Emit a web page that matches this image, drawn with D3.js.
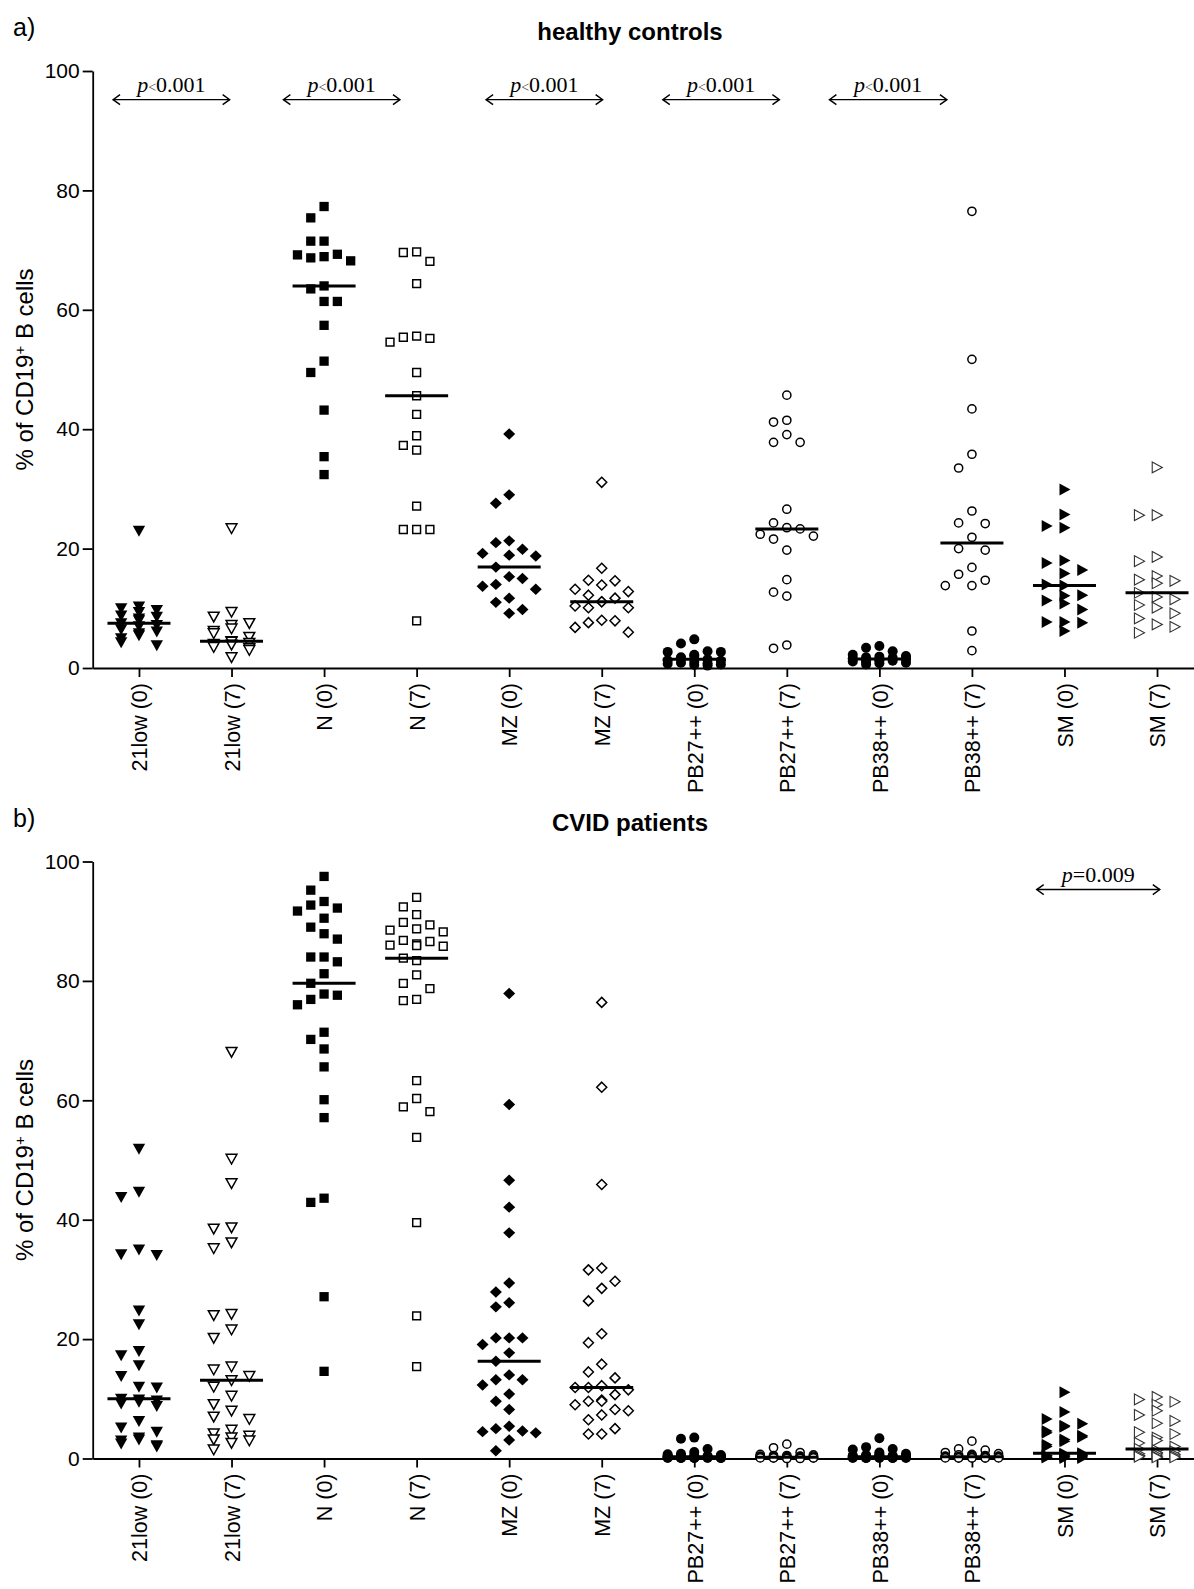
<!DOCTYPE html>
<meta charset="utf-8">
<style>
body { margin: 0; background: #fff; }
text { font-family: 'Liberation Sans', Arial, sans-serif; fill: #000; }
.axis path, .axis line { stroke: #000; stroke-width: 1.8px; }
.axis text { font-size: 21px; }
.pval { font-family: 'Liberation Serif', 'Times New Roman', serif; font-size: 22px; }
</style>
<body>
<svg width="1194" height="1589"></svg>
<script src="https://cdn.jsdelivr.net/npm/d3@7"></script>
<script>

// categories on the x axis (same for both panels)
var categories = ["21low (0)", "21low (7)", "N (0)", "N (7)", "MZ (0)", "MZ (7)",
                  "PB27++ (0)", "PB27++ (7)", "PB38++ (0)", "PB38++ (7)", "SM (0)", "SM (7)"];

var yTicks = [0, 20, 40, 60, 80, 100];

// a) healthy controls, % of CD19+ B cells, one list per category
var healthyValues = [
  [23.0, 10.3, 10.0, 9.7, 9.4, 8.8, 8.6, 8.3, 8.0, 7.5, 7.2, 7.0, 6.5, 6.1, 5.8, 5.5, 5.0, 4.3, 3.8],
  [23.4, 9.4, 8.6, 7.5, 7.2, 6.6, 6.2, 5.8, 5.2, 4.5, 4.4, 4.2, 4.0, 3.9, 3.7, 3.5, 3.3, 3.0, 1.8],
  [77.3, 75.4, 71.5, 71.5, 69.3, 69.2, 68.9, 68.7, 68.2, 64.0, 63.5, 61.4, 61.4, 57.4, 51.4, 49.5, 43.2, 35.4, 32.4],
  [69.7, 69.6, 68.1, 64.4, 55.6, 55.4, 55.2, 54.6, 49.5, 45.6, 42.5, 38.9, 37.3, 36.5, 27.1, 23.2, 23.2, 23.2, 7.9],
  [39.2, 29.0, 27.6, 21.3, 21.0, 19.9, 19.2, 18.9, 18.75, 16.9, 15.3, 15.0, 14.0, 13.7, 13.2, 11.7, 11.0, 9.8, 9.15],
  [31.1, 16.7, 14.7, 14.6, 13.9, 13.2, 12.8, 12.2, 11.7, 11.1, 11.1, 10.4, 10.1, 10.1, 8.0, 7.9, 7.6, 6.8, 6.0],
  [4.8, 4.1, 2.8, 2.7, 2.7, 2.2, 2.0, 1.8, 1.6, 1.45, 1.3, 1.2, 1.0, 0.9, 0.8, 0.7, 0.6, 0.5, 0.4],
  [45.7, 41.5, 41.2, 39.1, 37.8, 37.8, 26.6, 24.3, 23.5, 23.3, 22.4, 22.1, 21.6, 19.75, 14.8, 12.7, 12.05, 3.85, 3.3],
  [3.7, 3.4, 2.8, 2.2, 2.0, 1.9, 1.8, 1.7, 1.6, 1.5, 1.4, 1.3, 1.3, 1.2, 1.1, 1.0, 0.9, 0.8, 0.6],
  [76.5, 51.7, 43.4, 35.8, 33.5, 26.3, 24.3, 24.2, 21.9, 20.0, 19.75, 16.85, 15.7, 14.7, 13.8, 13.8, 6.2, 2.9],
  [29.9, 25.7, 23.8, 23.5, 18.0, 17.6, 16.4, 15.85, 14.0, 13.8, 12.2, 12.1, 11.3, 10.8, 9.8, 7.7, 7.7, 7.6, 6.2],
  [33.6, 25.6, 25.6, 18.6, 17.9, 15.4, 14.8, 14.6, 14.2, 12.6, 11.9, 11.5, 10.55, 10.1, 9.15, 8.3, 7.3, 6.9, 5.9]
];

// b) CVID patients
var cvidValues = [
  [51.9, 44.7, 43.8, 35.0, 34.2, 34.1, 24.8, 22.5, 18.0, 17.3, 15.6, 13.8, 12.0, 11.9, 10.0, 9.9, 9.7, 9.5, 9.2, 8.8, 6.3, 5.2, 4.5, 3.5, 3.2, 3.0, 2.5, 2.2, 2.0],
  [68.1, 50.2, 46.1, 38.7, 38.5, 36.2, 35.2, 24.2, 24.0, 21.6, 20.2, 15.4, 14.9, 13.8, 13.1, 12.0, 10.5, 9.1, 8.0, 7.0, 6.6, 4.8, 4.2, 3.8, 3.5, 3.2, 3.0, 2.6, 1.5],
  [97.5, 95.2, 93.3, 92.7, 92.2, 91.7, 90.5, 89.0, 87.9, 87.0, 84.0, 84.0, 83.2, 81.2, 79.6, 77.8, 77.6, 76.9, 76.0, 71.4, 70.2, 68.6, 65.6, 60.1, 57.1, 43.6, 42.9, 27.1, 14.6],
  [94.0, 92.4, 91.1, 89.8, 89.4, 88.7, 88.5, 88.2, 86.8, 86.6, 86.2, 86.0, 85.9, 85.8, 83.8, 83.4, 81.0, 79.6, 78.7, 76.9, 76.7, 63.3, 60.3, 58.9, 58.1, 53.8, 39.5, 23.9, 15.4],
  [77.9, 59.3, 46.6, 42.1, 37.8, 29.4, 27.9, 26.1, 25.4, 20.2, 20.2, 20.2, 19.1, 17.7, 16.3, 14.0, 13.2, 13.2, 12.3, 10.8, 9.6, 8.2, 5.4, 5.0, 4.6, 4.5, 4.3, 3.1, 1.3],
  [76.4, 62.2, 45.9, 31.9, 31.6, 29.7, 28.5, 26.4, 20.9, 19.4, 15.8, 14.5, 13.5, 12.2, 11.9, 11.9, 11.5, 10.7, 9.8, 9.6, 9.6, 9.0, 8.2, 8.0, 7.3, 6.5, 5.0, 4.1, 4.1],
  [3.5, 3.3, 1.6, 1.1, 0.8, 0.7, 0.6, 0.5, 0.5, 0.4, 0.4, 0.4, 0.3, 0.3, 0.3, 0.3, 0.2, 0.2, 0.2, 0.2, 0.2, 0.1, 0.1, 0.1, 0.1, 0.1, 0.1, 0.1, 0.1],
  [2.4, 1.8, 1.0, 0.7, 0.6, 0.5, 0.5, 0.4, 0.4, 0.4, 0.3, 0.3, 0.3, 0.3, 0.2, 0.2, 0.2, 0.2, 0.2, 0.1, 0.1, 0.1, 0.1, 0.1, 0.1, 0.1, 0.1, 0.0, 0.0],
  [3.4, 1.9, 1.6, 1.5, 1.0, 0.8, 0.7, 0.6, 0.5, 0.5, 0.4, 0.4, 0.4, 0.3, 0.3, 0.3, 0.3, 0.2, 0.2, 0.2, 0.2, 0.2, 0.1, 0.1, 0.1, 0.1, 0.1, 0.1, 0.1],
  [2.9, 1.6, 1.4, 1.0, 0.8, 0.7, 0.6, 0.5, 0.5, 0.4, 0.4, 0.4, 0.3, 0.3, 0.3, 0.3, 0.2, 0.2, 0.2, 0.2, 0.2, 0.1, 0.1, 0.1, 0.1, 0.1, 0.1, 0.1, 0.1],
  [11.1, 7.8, 6.6, 5.8, 5.5, 5.3, 4.6, 4.3, 3.8, 3.6, 3.2, 2.9, 2.3, 2.0, 0.9, 0.8, 0.7, 0.7, 0.6, 0.5, 0.5, 0.4, 0.4, 0.3, 0.3, 0.2, 0.2, 0.1, 0.1],
  [10.3, 9.9, 9.5, 9.0, 8.0, 7.3, 6.3, 5.9, 4.4, 4.1, 3.5, 3.0, 2.6, 2.0, 1.6, 1.4, 1.2, 1.0, 0.9, 0.8, 0.7, 0.6, 0.5, 0.5, 0.4, 0.3, 0.3, 0.2, 0.2]
];

// significance brackets: extent in category-index units, height in % units
var healthyTests = [
  {from: -0.28, to: 0.98, at: 95.2, op: "<", p: "0.001"},
  {from: 1.56, to: 2.82, at: 95.2, op: "<", p: "0.001"},
  {from: 3.75, to: 5.01, at: 95.2, op: "<", p: "0.001"},
  {from: 5.66, to: 6.92, at: 95.2, op: "<", p: "0.001"},
  {from: 7.46, to: 8.73, at: 95.2, op: "<", p: "0.001"}
];
var cvidTests = [
  {from: 9.70, to: 11.03, at: 95.3, op: "=", p: "0.009"}
];

// marker look per category
var markers = [
  {shape: "triDown", fill: true}, {shape: "triDown", fill: false},
  {shape: "square", fill: true}, {shape: "square", fill: false},
  {shape: "diamond", fill: true}, {shape: "diamond", fill: false},
  {shape: "circle", fill: true}, {shape: "circle", fill: false},
  {shape: "circle", fill: true}, {shape: "circle", fill: false},
  {shape: "triRight", fill: true}, {shape: "triRight", fill: false}
];

var svg = d3.select("svg");
var axisX = 92.7, plotRight = 1203.3, panelH = 597;

var x = d3.scalePoint().domain(categories).range([axisX, plotRight]).padding(0.5);
function xAt(i) { return x(categories[0]) + i * x.step(); }

function markerPath(m) {
  var a, b;
  switch (m.shape) {
    case "square":
      a = m.fill ? 4.65 : 3.9;
      return "M" + (-a) + "," + (-a) + "H" + a + "V" + a + "H" + (-a) + "Z";
    case "circle":
      a = m.fill ? 5 : 4.1;
      return "M" + (-a) + ",0A" + a + "," + a + " 0 1,0 " + a + ",0A" + a + "," + a + " 0 1,0 " + (-a) + ",0Z";
    case "diamond":
      a = m.fill ? 6 : 5; b = m.fill ? 5.7 : 5;
      return "M0," + (-b) + "L" + a + ",0L0," + b + "L" + (-a) + ",0Z";
    case "triDown":
      return m.fill ? "M-6.2,-5L6.2,-5L0,6Z" : "M-5.4,-4.5L5.4,-4.5L0,5.2Z";
    case "triRight":
      return m.fill ? "M-5,-6L6,0L-5,6Z" : "M-4.8,-5.4L5.3,0L-4.8,5.4Z";
  }
}

function swarmCfg(shape) {
  if (shape === "triDown" || shape === "triRight") return {step: 8.9, maxK: 3, w: 16, h: 12};
  return {step: 13.3, maxK: 2, w: 12, h: 14};
}

// simple column-scatter placement: spread points sideways when they collide
function swarm(vals, y, cfg) {
  var pts = vals.map(function(v) { return {v: v, py: y(v)}; })
    .sort(function(a, b) { return b.v - a.v; });
  var ks = [0];
  for (var k = 1; k <= cfg.maxK; k++) ks.push(-k, k);
  var placed = [];
  pts.forEach(function(p) {
    var best = 0, bestHits = Infinity;
    ks.forEach(function(k) {
      if (bestHits === 0) return;
      var dx = k * cfg.step;
      var hits = placed.filter(function(q) {
        return Math.abs(q.dx - dx) < cfg.w && Math.abs(q.py - p.py) < cfg.h;
      }).length;
      if (hits < bestHits) { bestHits = hits; best = dx; }
    });
    p.dx = best;
    placed.push(p);
  });
  return pts;
}

var panels = [
  {letter: "a)", title: "healthy controls", values: healthyValues, tests: healthyTests, top: 71},
  {letter: "b)", title: "CVID patients", values: cvidValues, tests: cvidTests, top: 861.5}
];

panels.forEach(function(pn) {
  var g = svg.append("g");
  var y = d3.scaleLinear().domain([0, 100]).range([pn.top + panelH, pn.top]);

  g.append("text").attr("x", 13).attr("y", pn.top - 35)
    .style("font-size", "25px").text(pn.letter);
  g.append("text").attr("x", 630).attr("y", pn.top - 31)
    .attr("text-anchor", "middle")
    .style("font-size", "24px").style("font-weight", "bold")
    .text(pn.title);

  var yl = g.append("text")
    .attr("transform", "translate(33," + (pn.top + panelH / 2) + ") rotate(-90)")
    .attr("text-anchor", "middle").style("font-size", "24px");
  yl.append("tspan").text("% of CD19");
  yl.append("tspan").attr("baseline-shift", "super").style("font-size", "15px").text("+");
  yl.append("tspan").text(" B cells");

  g.append("g").attr("class", "axis")
    .attr("transform", "translate(" + axisX + ",0)")
    .call(d3.axisLeft(y).tickValues(yTicks).tickSize(10).tickSizeOuter(0).tickPadding(3))
    .call(function(s) { s.selectAll("text").style("font-size", "21px"); });

  var xa = g.append("g").attr("class", "axis")
    .attr("transform", "translate(0," + y(0) + ")")
    .call(d3.axisBottom(x).tickSize(9).tickSizeOuter(0));
  xa.selectAll("text")
    .attr("transform", "rotate(-90)")
    .attr("text-anchor", "end")
    .attr("x", -15).attr("y", 0).attr("dy", "0.36em")
    .style("font-size", "21.5px");

  // points
  pn.values.forEach(function(vals, i) {
    var m = markers[i];
    var cx = x(categories[i]);
    var pts = swarm(vals, y, swarmCfg(m.shape));
    var open = m.shape === "triRight" ? 1.1 : 1.5;
    g.append("g").selectAll("path").data(pts).enter().append("path")
      .attr("d", markerPath(m))
      .attr("transform", function(d) { return "translate(" + (cx + d.dx) + "," + d.py + ")"; })
      .style("fill", m.fill ? "#000" : "#fff")
      .style("stroke", m.fill ? "none" : (m.shape === "triRight" ? "#333" : "#000"))
      .style("stroke-width", open);

    var med = d3.median(vals);
    g.append("line")
      .attr("x1", cx - 31.5).attr("x2", cx + 31.5)
      .attr("y1", y(med)).attr("y2", y(med))
      .style("stroke", "#000").style("stroke-width", 3);
  });

  // significance arrows
  pn.tests.forEach(function(t) {
    var x0 = xAt(t.from), x1 = xAt(t.to), ay = y(t.at);
    g.append("line").attr("x1", x0).attr("x2", x1).attr("y1", ay).attr("y2", ay)
      .style("stroke", "#000").style("stroke-width", 1.4);
    g.append("path")
      .attr("d", "M" + (x0 + 7) + "," + (ay - 5) + "L" + x0 + "," + ay + "L" + (x0 + 7) + "," + (ay + 5) +
                 "M" + (x1 - 7) + "," + (ay - 5) + "L" + x1 + "," + ay + "L" + (x1 - 7) + "," + (ay + 5))
      .style("fill", "none").style("stroke", "#000").style("stroke-width", 1.4);
    var tx = g.append("text").attr("class", "pval")
      .attr("x", (x0 + x1) / 2).attr("y", ay - 8)
      .attr("text-anchor", "middle");
    tx.append("tspan").style("font-style", "italic").text("p");
    if (t.op === "<") {
      tx.append("tspan").style("font-size", "14px").style("fill", "#444").text("<");
    } else {
      tx.append("tspan").text("=");
    }
    tx.append("tspan").text(t.p);
  });
});

</script>
</body>
